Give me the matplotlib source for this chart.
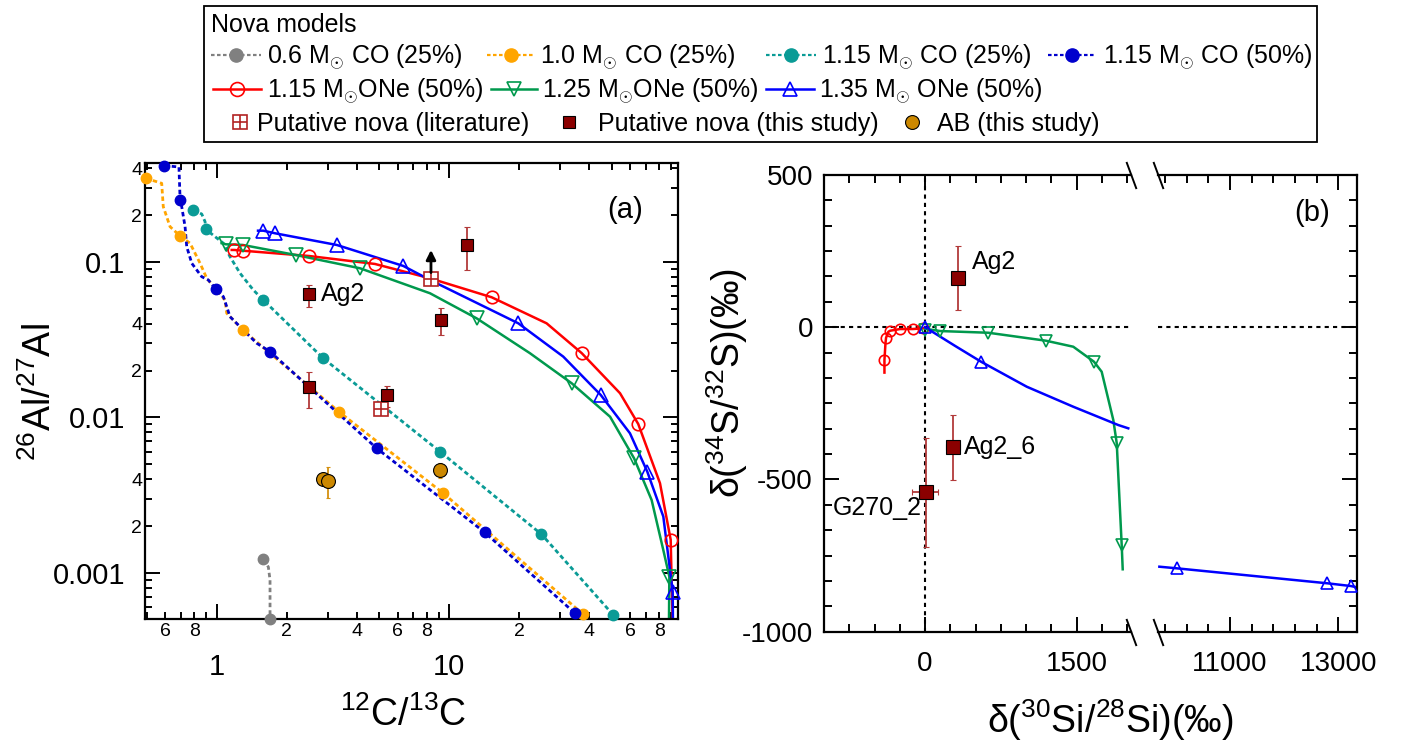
"""
Modelos de nova frente a granos presolares.
(a) 26Al/27Al vs 12C/13C   (b) delta(34S/32S) vs delta(30Si/28Si), eje x partido.

Genera:
    - out.png
"""

import numpy as np
import matplotlib

matplotlib.use("Agg")
import matplotlib.pyplot as plt
from matplotlib.legend_handler import HandlerTuple
from matplotlib.lines import Line2D
from matplotlib.patches import Rectangle
from matplotlib.ticker import AutoMinorLocator, FuncFormatter, LogLocator, MultipleLocator

plt.rcParams["font.family"] = ["Liberation Sans", "DejaVu Sans"]
plt.rcParams["mathtext.fontset"] = "custom"
plt.rcParams["mathtext.rm"] = "Liberation Sans"
plt.rcParams["mathtext.it"] = "Liberation Sans:italic"
plt.rcParams["mathtext.bf"] = "Liberation Sans:bold"
plt.rcParams["axes.unicode_minus"] = False

W, H = 1421, 752
LEG_FS = 18

GRAY, ORANGE, TEAL, NAVY = "#808080", "#FFA500", "#0A9B96", "#0000CD"
RED, GREEN, BLUE = "#FF0000", "#00994D", "#0000FF"
NOVA, NOVA_ERR, LIT = "#8B0000", "#B23A3A", "#B22222"
AB, AB_ERR = "#CC8800", "#D4900F"
DASH = (0, (1.6, 1.1))

# ---- (a) modelos CO: trazo de la curva (X/Y) y puntos marcados (MX/MY) ----
CO06_X = [1.586, 1.667, 1.695, 1.695]
CO06_Y = [0.00122, 0.00109, 0.0009, 0.0005]
CO06_MX = [1.586, 1.695]
CO06_MY = [0.00122, 0.000502]

CO10_X = [0.495, 0.580, 0.589, 0.63, 0.696, 0.768, 0.848, 0.906, 1.0, 1.085, 1.104,
          1.179, 1.294, 3.37, 9.42, 37.5]
CO10_Y = [0.346, 0.3208, 0.2271, 0.1687, 0.147, 0.132, 0.0981, 0.0785, 0.066, 0.0569,
          0.0468, 0.0423, 0.0365, 0.0108, 0.00325, 0.000543]
CO10_MX = [0.495, 0.696, 1.294, 3.37, 9.42, 37.5]
CO10_MY = [0.346, 0.147, 0.0365, 0.0108, 0.00325, 0.000543]

CO115_X = [0.793, 0.862, 0.891, 0.897, 1.068, 1.14, 1.26, 1.437, 1.586, 2.87, 9.12,
           24.9, 50.7]
CO115_Y = [0.2163, 0.2036, 0.1817, 0.1623, 0.132, 0.1082, 0.0846, 0.066, 0.0569, 0.024,
           0.00602, 0.00177, 0.000535]
CO115_MX = [0.793, 0.897, 1.586, 2.87, 9.12, 24.9, 50.7]
CO115_MY = [0.2163, 0.1623, 0.0569, 0.024, 0.00602, 0.00177, 0.000535]

CO115B_X = [0.595, 0.688, 0.696, 0.707, 0.731, 0.743, 0.781, 0.862, 0.920, 0.993, 1.068,
            1.104, 1.14, 1.26, 1.486, 1.695, 4.87, 14.2, 34.7]
CO115B_Y = [0.417, 0.4085, 0.251, 0.2271, 0.1687, 0.1254, 0.0981, 0.0804, 0.0766, 0.0667,
            0.0598, 0.0516, 0.0445, 0.0383, 0.03, 0.0265, 0.00633, 0.00182, 0.000549]
CO115B_MX = [0.595, 0.696, 0.993, 1.695, 4.87, 14.2, 34.7]
CO115B_MY = [0.417, 0.251, 0.0667, 0.0265, 0.00633, 0.00182, 0.000549]

# ---- (a) modelos ONe ----
ONE115_X = [1.16, 1.19, 1.294, 2.49, 4.79, 8.26, 15.2, 26.2, 37.1, 54.2, 64.9, 80.5,
            89.5, 90.7, 91.3]
ONE115_Y = [0.1195, 0.1195, 0.1182, 0.1093, 0.0971, 0.0785, 0.0593, 0.0403, 0.0259,
            0.0143, 0.00907, 0.00377, 0.00163, 0.00067, 0.0005]
ONE115_MX = [1.19, 1.294, 2.49, 4.79, 15.2, 37.1, 64.9, 89.5]
ONE115_MY = [0.1195, 0.1182, 0.1093, 0.0971, 0.0593, 0.0259, 0.00907, 0.00163]

ONE125_X = [1.05, 1.093, 1.294, 2.186, 4.13, 8.26, 13.1, 22.2, 33.6, 49.1, 62.3, 74.1,
            83.2, 88.3, 88.0]
ONE125_Y = [0.132, 0.13, 0.1287, 0.1109, 0.0911, 0.0629, 0.0434, 0.0259, 0.01657, 0.0101,
            0.00545, 0.00294, 0.0014, 0.000944, 0.0005]
ONE125_MX = [1.093, 1.294, 2.186, 4.13, 13.1, 33.6, 62.3, 88.3]
ONE125_MY = [0.13, 0.1287, 0.1109, 0.0911, 0.0434, 0.01657, 0.00545, 0.000944]

ONE135_X = [1.505, 1.586, 1.781, 3.28, 6.34, 8.26, 19.8, 30.9, 44.8, 59.8, 71.0, 83.2,
            91.3, 91.5]
ONE135_Y = [0.159, 0.159, 0.153, 0.1287, 0.0943, 0.0766, 0.0403, 0.0246, 0.01393, 0.0079,
            0.00447, 0.0023, 0.000756, 0.0005]
ONE135_MX = [1.586, 1.781, 3.28, 6.34, 19.8, 44.8, 71.0, 91.3]
ONE135_MY = [0.159, 0.153, 0.1287, 0.0943, 0.0403, 0.01393, 0.00447, 0.000756]

# ---- (a) granos medidos ----
NOVA_A_X = [11.95, 2.49, 9.18, 2.49, 5.38]
NOVA_A_Y = [0.1287, 0.0622, 0.0423, 0.01562, 0.01384]
NOVA_A_LO = [0.0888, 0.0516, 0.0339, 0.01144, 0.01172]
NOVA_A_HI = [0.1687, 0.0711, 0.0504, 0.01968, 0.01592]
LIT_X = [8.34, 5.09]
LIT_Y = [0.0777, 0.01132]
LIT_LIMIT_TOP = 0.1195  # flecha: limite inferior del primer grano
AB_X = [2.87, 3.02, 9.12]
AB_Y = [0.0040, 0.00392, 0.00459]
AB_LO = [0.0040, 0.00302, 0.0041]
AB_HI = [0.0040, 0.00478, 0.00508]

# ---- (b) modelos ----
B_ONE115_X = [-402, -402, -392, -386, -363, -346, -247, -122, -17, 0]
B_ONE115_Y = [-149, -107.6, -52.9, -34.5, -14.8, -11.5, -5.9, -5.9, -3.6, 0]
B_ONE115_MX = [-402, -386, -346, -247, -122, -17]
B_ONE115_MY = [-107.6, -34.5, -11.5, -5.9, -5.9, -3.6]

B_ONE125_X = [0, 148, 626, 1196, 1466, 1671, 1747, 1862, 1896, 1945, 1955]
B_ONE125_Y = [-5, -12.5, -18.1, -44.3, -64, -113.3, -146.2, -304.8, -381.3, -715.3, -795]
B_ONE125_MX = [0, 148, 626, 1196, 1671, 1896, 1945]
B_ONE125_MY = [-9, -12.5, -18.1, -44.3, -113.3, -381.3, -715.3]

B_ONE135_X = [0, 300, 554, 1006, 1466, 1911, 2010]
B_ONE135_Y = [0, -62, -113.3, -195.4, -261.1, -321.2, -332]
B_ONE135_MX = [0, 554]
B_ONE135_MY = [0, -113.3]
B_ONE135_FAR_X = [9695, 10016, 12796, 13228, 13339]
B_ONE135_FAR_Y = [-786.5, -791.8, -841, -849.9, -854]
B_ONE135_FAR_MX = [10016, 12796, 13228]
B_ONE135_FAR_MY = [-791.8, -841, -849.9]

# ---- (b) granos medidos ----
NOVA_B_NAMES = ["Ag2", "Ag2_6", "G270_2"]
NOVA_B_X = [329, 274, 7]
NOVA_B_Y = [162.7, -392.4, -540.2]
NOVA_B_YLO = [56.6, -501.7, -720.8]
NOVA_B_YHI = [267.8, -288.3, -364.8]
NOVA_B_XLO = [329, 208, -131.5]
NOVA_B_XHI = [329, 346, 131.5]


def box(l, t, r, b):
    return [l / W, 1 - b / H, (r - l) / W, (b - t) / H]


def minor_label(keep):
    def f(v, pos):
        m = int(round(v / 10 ** np.floor(np.log10(v) + 1e-9)))
        return str(m) if m in keep else ""
    return f


def err(v, lo, hi):
    v, lo, hi = map(np.asarray, (v, lo, hi))
    return [v - lo, hi - v]


def model(ax, x, y, mx, my, color, marker, dashed, ms):
    if dashed:
        ax.plot(x, y, color=color, ls=DASH, lw=2, zorder=2)
        ax.plot(mx, my, ls="none", marker=marker, color=color, ms=ms, clip_on=False, zorder=3)
    else:
        ax.plot(x, y, color=color, lw=1.8, zorder=2)
        ax.plot(mx, my, ls="none", marker=marker, mfc="none", mec=color, mew=1.2, ms=ms,
                clip_on=False, zorder=3)


def label_at(axis, x, y):
    axis.label.set_verticalalignment("center")
    axis.set_label_coords(x, y)


def main() -> None:
    fig = plt.figure(figsize=(W / 100, H / 100), dpi=100)

    # ----------------------------- panel (a)
    ax = fig.add_axes(box(145, 163.3, 678.3, 619.3))
    model(ax, CO06_X, CO06_Y, CO06_MX, CO06_MY, GRAY, "o", True, 7.5)
    model(ax, CO10_X, CO10_Y, CO10_MX, CO10_MY, ORANGE, "o", True, 7.5)
    model(ax, CO115_X, CO115_Y, CO115_MX, CO115_MY, TEAL, "o", True, 7.5)
    model(ax, CO115B_X, CO115B_Y, CO115B_MX, CO115B_MY, NAVY, "o", True, 7.5)
    model(ax, ONE115_X, ONE115_Y, ONE115_MX, ONE115_MY, RED, "o", False, 9)
    model(ax, ONE125_X, ONE125_Y, ONE125_MX, ONE125_MY, GREEN, "v", False, 9.5)
    model(ax, ONE135_X, ONE135_Y, ONE135_MX, ONE135_MY, BLUE, "^", False, 9.5)

    ax.errorbar(NOVA_A_X, NOVA_A_Y, yerr=err(NOVA_A_Y, NOVA_A_LO, NOVA_A_HI), fmt="s",
                ms=9, mfc=NOVA, mec="k", mew=0.8, ecolor=NOVA_ERR, elinewidth=1.3,
                capsize=2, zorder=5)
    ax.plot(LIT_X, LIT_Y, ls="none", marker="s", mfc="white", mec=LIT, mew=1.2, ms=10, zorder=5)
    ax.plot(LIT_X, LIT_Y, ls="none", marker="+", mec=LIT, mew=1.2, ms=10, zorder=6)
    ax.annotate("", xy=(LIT_X[0], LIT_LIMIT_TOP), xytext=(LIT_X[0], LIT_Y[0] * 1.1),
                arrowprops=dict(arrowstyle="-|>", color="k", lw=2, mutation_scale=14,
                                shrinkA=0, shrinkB=0), zorder=7)
    ax.errorbar(AB_X, AB_Y, yerr=err(AB_Y, AB_LO, AB_HI), fmt="o", ms=10, mfc=AB, mec="k",
                mew=0.8, ecolor=AB_ERR, elinewidth=1.3, capsize=1.5, zorder=5)
    ax.text(2.81, NOVA_A_Y[1], "Ag2", fontsize=18, ha="left", va="center")
    ax.text(0.900, 0.8976, "(a)", transform=ax.transAxes, fontsize=21, ha="center", va="center")

    ax.set_xscale("log")
    ax.set_yscale("log")
    ax.set_xlim(0.4916, 96.5)
    ax.set_ylim(5.02e-4, 0.4315)
    for a, keep in ((ax.xaxis, (2, 4, 6, 8)), (ax.yaxis, (2, 4))):
        a.set_major_locator(LogLocator(10, numticks=10))
        a.set_minor_locator(LogLocator(10, subs=np.arange(2, 10), numticks=100))
        a.set_major_formatter(FuncFormatter(lambda v, p: f"{v:g}"))
        a.set_minor_formatter(FuncFormatter(minor_label(keep)))
    ax.tick_params(which="both", direction="in", top=True, right=True, width=1.4)
    ax.tick_params(which="major", length=11)
    ax.tick_params(which="minor", length=5)
    ax.tick_params(axis="x", which="major", labelsize=21, pad=24)
    ax.tick_params(axis="x", which="minor", labelsize=14, pad=2.5)
    ax.tick_params(axis="y", which="major", labelsize=21, pad=14)
    ax.tick_params(axis="y", which="minor", labelsize=14, pad=2)
    for s in ax.spines.values():
        s.set_linewidth(1.6)
    ax.set_xlabel(r"$^{12}$C/$^{13}$C", fontsize=27)
    ax.set_ylabel(r"$^{26}$Al/$^{27}$Al", fontsize=27)
    label_at(ax.xaxis, 0.4838, -0.2099)
    label_at(ax.yaxis, -0.197, 0.4985)

    # ----------------------------- panel (b), eje x partido
    b1 = fig.add_axes(box(824, 175, 1131, 631.7))
    b2 = fig.add_axes(box(1158, 175, 1357, 631.7), sharey=b1)
    for b in (b1, b2):
        b.axhline(0, color="k", ls=(0, (2, 2)), lw=1.5, zorder=1)
    b1.axvline(0, color="k", ls=(0, (2, 2)), lw=1.5, zorder=1)

    model(b1, B_ONE115_X, B_ONE115_Y, B_ONE115_MX, B_ONE115_MY, RED, "o", False, 7.5)
    model(b1, B_ONE125_X, B_ONE125_Y, B_ONE125_MX, B_ONE125_MY, GREEN, "v", False, 8.5)
    model(b1, B_ONE135_X, B_ONE135_Y, B_ONE135_MX, B_ONE135_MY, BLUE, "^", False, 8.5)
    model(b2, B_ONE135_FAR_X, B_ONE135_FAR_Y, B_ONE135_FAR_MX, B_ONE135_FAR_MY, BLUE, "^",
          False, 8.5)

    b1.errorbar(NOVA_B_X, NOVA_B_Y, yerr=err(NOVA_B_Y, NOVA_B_YLO, NOVA_B_YHI),
                xerr=err(NOVA_B_X, NOVA_B_XLO, NOVA_B_XHI), fmt="s", ms=10, mfc=NOVA,
                mec="k", mew=0.8, ecolor=NOVA_ERR, elinewidth=1.3, capsize=2, zorder=5)
    b1.text(462, 215, NOVA_B_NAMES[0], fontsize=18, ha="left", va="center")
    b1.text(386, -392, NOVA_B_NAMES[1], fontsize=18, ha="left", va="center")
    b1.text(-33, -595, NOVA_B_NAMES[2], fontsize=18, ha="right", va="center")
    b2.text(0.774, 0.9168, "(b)", transform=b2.transAxes, fontsize=21, ha="center",
            va="center")

    b1.set_xlim(-1000, 2037)
    b2.set_xlim(9670, 13345)
    b1.set_ylim(-1000, 500)
    b1.xaxis.set_major_locator(MultipleLocator(1500))
    b1.xaxis.set_minor_locator(MultipleLocator(250))
    b2.xaxis.set_major_locator(MultipleLocator(2000, offset=1000))
    b2.xaxis.set_minor_locator(MultipleLocator(400, offset=200))
    b1.yaxis.set_major_locator(MultipleLocator(500))
    b1.yaxis.set_minor_locator(AutoMinorLocator(6))

    b1.spines["right"].set_visible(False)
    b2.spines["left"].set_visible(False)
    b1.tick_params(which="both", direction="in", top=True, right=False, width=1.4)
    b2.tick_params(which="both", direction="in", top=True, left=False, right=True,
                   labelleft=False, width=1.4)
    for b in (b1, b2):
        b.tick_params(which="major", length=11)
        b.tick_params(which="minor", length=5.5)
        b.tick_params(axis="x", labelsize=20, pad=14)
        b.tick_params(axis="y", labelsize=20, pad=8)
        for s in b.spines.values():
            s.set_linewidth(1.6)

    brk = dict(marker=[(-1, 2.7), (1, -2.7)], markersize=19.5, ls="none", color="k",
               mec="k", mew=1.4, clip_on=False)
    b1.plot([1, 1], [0, 1], transform=b1.transAxes, **brk)
    b2.plot([0, 0], [0, 1], transform=b2.transAxes, **brk)

    b1.set_xlabel(r"δ($^{30}$Si/$^{28}$Si)(‰)", fontsize=27)
    b1.set_ylabel(r"δ($^{34}$S/$^{32}$S)(‰)", fontsize=27)
    label_at(b1.xaxis, 0.9316, -0.1933)
    label_at(b1.yaxis, -0.316, 0.5446)

    # ----------------------------- leyenda comun
    fig.add_artist(Rectangle((204 / W, 1 - 141.7 / H), (1317 - 204) / W, (141.7 - 6) / H,
                             transform=fig.transFigure, fill=False, ec="k", lw=1.3))
    fig.text(211 / W, 1 - 25 / H, "Nova models", fontsize=LEG_FS, ha="left", va="center")

    def dash_h(c):
        return Line2D([], [], color=c, ls=DASH, lw=1.6, marker="o", ms=9.5)

    def open_h(c, m):
        return Line2D([], [], color=c, lw=1.8, marker=m, mfc="none", mec=c, mew=1.2, ms=10)

    lit_h = (Line2D([], [], ls="none", marker="s", mfc="none", mec=LIT, mew=1.2, ms=10),
             Line2D([], [], ls="none", marker="+", mec=LIT, mew=1.2, ms=10))
    nova_h = Line2D([], [], ls="none", marker="s", mfc=NOVA, mec="k", mew=0.8, ms=9)
    ab_h = Line2D([], [], ls="none", marker="o", mfc=AB, mec="k", mew=0.8, ms=10)

    msun = r"M$_{\odot}$"
    # (handle, texto, x inicio handle, x inicio texto, y fila, largo handle) en pixeles
    entries = [
        (dash_h(GRAY), f"0.6 {msun} CO (25%)", 211, 267, 57, 50),
        (dash_h(ORANGE), f"1.0 {msun} CO (25%)", 487, 540, 57, 47),
        (dash_h(TEAL), f"1.15 {msun} CO (25%)", 766, 822, 57, 50),
        (dash_h(NAVY), f"1.15 {msun} CO (50%)", 1048, 1103, 57, 48),
        (open_h(RED, "o"), f"1.15 {msun}ONe (50%)", 213, 267, 91, 48),
        (open_h(GREEN, "v"), f"1.25 {msun}ONe (50%)", 491, 542, 91, 46),
        (open_h(BLUE, "^"), f"1.35 {msun} ONe (50%)", 766, 819, 91, 48),
        (lit_h, "Putative nova (literature)", 228, 257, 124, 24),
        (nova_h, "Putative nova (this study)", 557, 598, 124, 24),
        (ab_h, "AB (this study)", 900, 937, 124, 24),
    ]
    fs_px = LEG_FS * 100 / 72
    for h, lab, x0, x1, y, hl in entries:
        fig.legend([h], [lab], loc="center left", bbox_to_anchor=(x0 / W, 1 - y / H),
                   frameon=False, borderpad=0, borderaxespad=0, fontsize=LEG_FS,
                   handlelength=hl / fs_px, handletextpad=(x1 - x0 - hl) / fs_px,
                   handler_map={tuple: HandlerTuple(ndivide=1)})

    fig.savefig("out.png", dpi=100)


if __name__ == "__main__":
    main()
